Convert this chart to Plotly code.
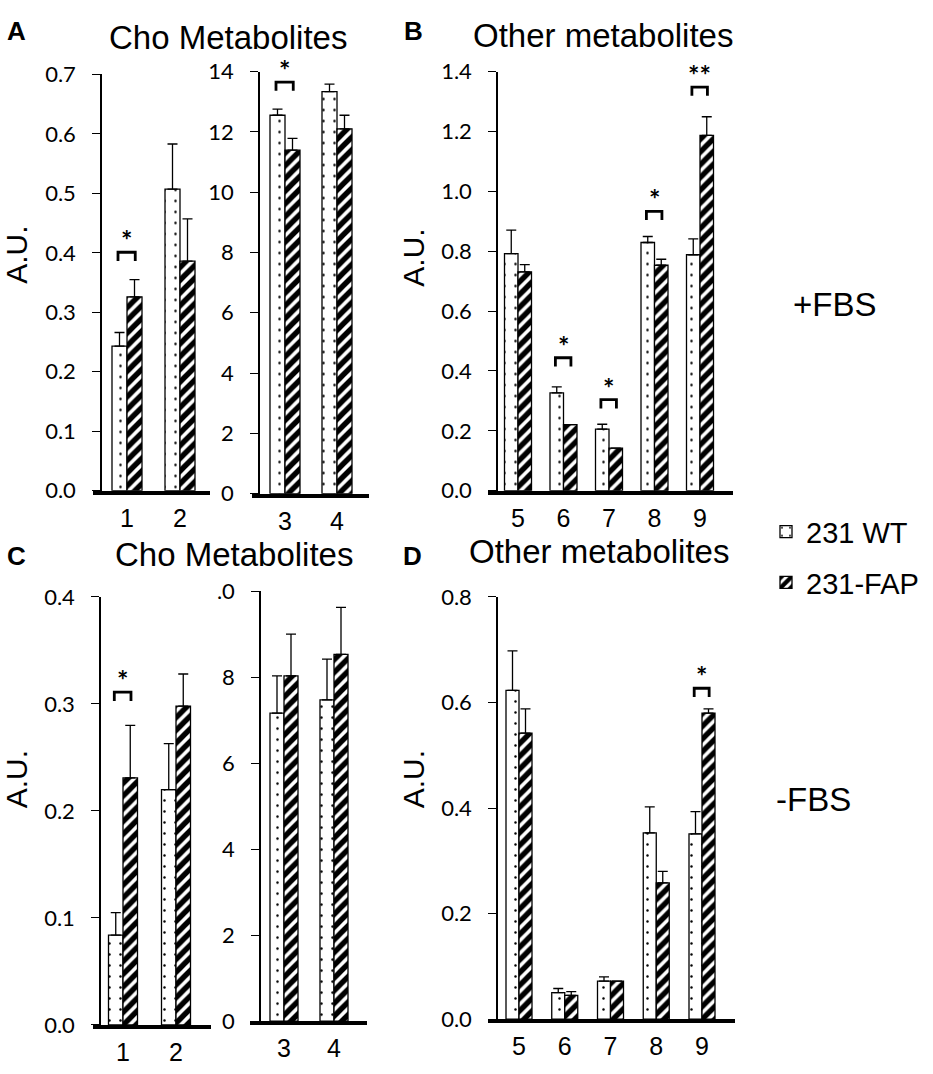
import plotly.graph_objects as go

# values (A.U.)
cats_cho_a = [1, 2]
cats_cho_b = [3, 4]
cats_other = [5, 6, 7, 8, 9]

# +FBS, Cho metabolites
a1_wt = [0.243, 0.507]
a1_wt_err = [0.023, 0.076]
a1_fap = [0.326, 0.386]
a1_fap_err = [0.029, 0.071]

a2_wt = [12.55, 13.33]
a2_wt_err = [0.20, 0.25]
a2_fap = [11.39, 12.10]
a2_fap_err = [0.39, 0.45]

# +FBS, other metabolites
b_wt = [0.792, 0.327, 0.206, 0.829, 0.788]
b_wt_err = [0.078, 0.020, 0.016, 0.020, 0.053]
b_fap = [0.731, 0.221, 0.142, 0.753, 1.187]
b_fap_err = [0.024, 0.0, 0.0, 0.020, 0.062]

# -FBS, Cho metabolites
c1_wt = [0.084, 0.220]
c1_wt_err = [0.021, 0.043]
c1_fap = [0.231, 0.298]
c1_fap_err = [0.049, 0.030]

c2_wt = [7.16, 7.47]
c2_wt_err = [0.87, 0.95]
c2_fap = [8.03, 8.53]
c2_fap_err = [0.97, 1.09]

# -FBS, other metabolites
d_wt = [0.623, 0.050, 0.072, 0.353, 0.351]
d_wt_err = [0.075, 0.008, 0.008, 0.049, 0.042]
d_fap = [0.542, 0.045, 0.072, 0.258, 0.580]
d_fap_err = [0.046, 0.007, 0.0, 0.022, 0.008]

# y ticks
a1_ticks = [0.0, 0.1, 0.2, 0.3, 0.4, 0.5, 0.6, 0.7]
a2_ticks = [0, 2, 4, 6, 8, 10, 12, 14]
b_ticks = [0.0, 0.2, 0.4, 0.6, 0.8, 1.0, 1.2, 1.4]
c1_ticks = [0.0, 0.1, 0.2, 0.3, 0.4]
c2_ticks = [0, 2, 4, 6, 8, 10]
c2_ticktext = ["0", "2", "4", "6", "8", ".0"]
d_ticks = [0.0, 0.2, 0.4, 0.6, 0.8]

# significance brackets: category, bracket top, label
a1_sig = [(1, 0.401, "*")]
a2_sig = [(3, 13.65, "*")]
b_sig = [(6, 0.444, "*"), (7, 0.304, "*"), (8, 0.933, "*"), (9, 1.348, "**")]
c1_sig = [(1, 0.311, "*")]
c2_sig = []
d_sig = [(9, 0.627, "*")]

W, H = 933, 1074


def px(x):
    return x / W


def py(y):
    return 1 - y / H


# geometry in page pixels: x-axis left/right, y-axis x, top tick y, baseline y,
# first / last category centre, bar width
panels = [
    dict(cats=cats_cho_a, wt=a1_wt, wte=a1_wt_err, fap=a1_fap, fape=a1_fap_err,
         ticks=a1_ticks, ticktext=["%.1f" % t for t in a1_ticks], sig=a1_sig,
         left=93, right=210, yx=101, top=62, base=489, c0=127, cl=180, bw=15),
    dict(cats=cats_cho_b, wt=a2_wt, wte=a2_wt_err, fap=a2_fap, fape=a2_fap_err,
         ticks=a2_ticks, ticktext=[str(t) for t in a2_ticks], sig=a2_sig,
         left=252, right=369, yx=259, top=59, base=492, c0=285, cl=337, bw=15),
    dict(cats=cats_other, wt=b_wt, wte=b_wt_err, fap=b_fap, fape=b_fap_err,
         ticks=b_ticks, ticktext=["%.1f" % t for t in b_ticks], sig=b_sig,
         left=488, right=733, yx=497, top=59, base=489, c0=518, cl=700, bw=13.5),
    dict(cats=cats_cho_a, wt=c1_wt, wte=c1_wt_err, fap=c1_fap, fape=c1_fap_err,
         ticks=c1_ticks, ticktext=["%.1f" % t for t in c1_ticks], sig=c1_sig,
         left=93, right=211, yx=100, top=598, base=1037, c0=123, cl=176, bw=14.5),
    dict(cats=cats_cho_b, wt=c2_wt, wte=c2_wt_err, fap=c2_fap, fape=c2_fap_err,
         ticks=c2_ticks, ticktext=c2_ticktext, sig=c2_sig,
         left=250, right=367, yx=260, top=592, base=1033, c0=284, cl=334, bw=14),
    dict(cats=cats_other, wt=d_wt, wte=d_wt_err, fap=d_fap, fape=d_fap_err,
         ticks=d_ticks, ticktext=["%.1f" % t for t in d_ticks], sig=d_sig,
         left=488, right=735, yx=497, top=598, base=1031, c0=519, cl=702, bw=13),
]

fig = go.Figure()
layout = {}
shapes = []
annotations = []

for i, p in enumerate(panels, start=1):
    xa = "x" if i == 1 else "x%d" % i
    ya = "y" if i == 1 else "y%d" % i
    cats = p["cats"]
    n = len(cats)
    step = (p["cl"] - p["c0"]) / (n - 1)
    r0 = cats[0] - (p["c0"] - p["left"]) / step
    r1 = cats[-1] + (p["right"] - p["cl"]) / step
    bw = p["bw"] / step
    ymax = p["ticks"][-1]

    fig.add_trace(go.Bar(
        x=cats, y=p["wt"], width=bw, offset=-bw, name="231 WT",
        xaxis=xa, yaxis=ya, legendgroup="wt", showlegend=(i == 1),
        marker=dict(color="white", opacity=1, line=dict(color="black", width=1.3),
                    pattern=dict(shape=".", fgcolor="black", bgcolor="white",
                                 fgopacity=1, size=11, solidity=0.04)),
        error_y=dict(type="data", symmetric=False, array=p["wte"],
                     arrayminus=[0] * n, color="black", thickness=1.3, width=5),
    ))
    fig.add_trace(go.Bar(
        x=cats, y=p["fap"], width=bw, offset=0, name="231-FAP",
        xaxis=xa, yaxis=ya, legendgroup="fap", showlegend=(i == 1),
        marker=dict(color="white", opacity=1, line=dict(color="black", width=1.3),
                    pattern=dict(shape="/", fgcolor="black", bgcolor="white",
                                 fgopacity=1, size=9, solidity=0.6)),
        error_y=dict(type="data", symmetric=False, array=p["fape"],
                     arrayminus=[0] * n, color="black", thickness=1.3, width=5),
    ))

    key = "" if i == 1 else str(i)
    layout["xaxis" + key] = dict(
        domain=[px(p["left"]), px(p["right"])], anchor=ya, range=[r0, r1],
        tickvals=cats, ticktext=[str(c) for c in cats], ticks="",
        showline=True, linewidth=4, linecolor="black",
        showgrid=False, zeroline=False, ticklabelstandoff=2,
        tickfont=dict(family="Liberation Sans, Arial", size=25, color="black"),
    )
    layout["yaxis" + key] = dict(
        domain=[py(p["base"]), py(p["top"])], anchor="free",
        position=px(p["yx"]), range=[0, ymax],
        tickvals=p["ticks"], ticktext=p["ticktext"], ticks="outside",
        ticklen=8, tickwidth=1.3, tickcolor="black",
        showline=True, linewidth=1.5, linecolor="black",
        showgrid=False, zeroline=False, ticklabelstandoff=12,
        tickfont=dict(family="Lato", size=22, color="black"),
    )

    leg = 9 * ymax / (p["base"] - p["top"])
    for c, yt, lbl in p["sig"]:
        xl = c - 0.6 * bw
        xr = c + 0.55 * bw
        shapes.append(dict(
            type="path", xref=xa, yref=ya,
            path="M%f,%f L%f,%f L%f,%f L%f,%f" % (xl, yt - leg, xl, yt, xr, yt, xr, yt - leg),
            line=dict(color="black", width=2.8),
        ))
        annotations.append(dict(
            x=(xl + xr) / 2, y=yt, xref=xa, yref=ya, text="<b>%s</b>" % lbl,
            showarrow=False, yanchor="bottom", yshift=-6,
            font=dict(family="Lato", size=27, color="black"),
        ))

title_font = dict(family="Liberation Sans, Arial", size=33, color="black")
letter_font = dict(family="Liberation Sans, Arial", size=26, color="black")
au_font = dict(family="Liberation Sans, Arial", size=30, color="black")

texts = [
    ("Cho Metabolites", 228, 24, title_font, 0),
    ("Other metabolites", 603, 22, title_font, 0),
    ("Cho Metabolites", 234, 554, title_font, 0),
    ("Other metabolites", 599, 551, title_font, 0),
    ("<b>A</b>", 16, 17, letter_font, 0),
    ("<b>B</b>", 413, 17, letter_font, 0),
    ("<b>C</b>", 16, 556, letter_font, 0),
    ("<b>D</b>", 412, 556, letter_font, 0),
    ("A.U.", 17, 247, au_font, -90),
    ("A.U.", 414, 250, au_font, -90),
    ("A.U.", 16, 785, au_font, -90),
    ("A.U.", 413, 785, au_font, -90),
    ("+FBS", 834, 298, title_font, 0),
    ("-FBS", 813, 806, title_font, 0),
]
for t, x, y, f, ang in texts:
    annotations.append(dict(
        text=t, x=px(x), y=py(y), xref="paper", yref="paper",
        xanchor="center", yanchor="middle", showarrow=False, font=f, textangle=ang,
    ))

fig.update_layout(
    width=W, height=H, autosize=False,
    margin=dict(l=0, r=0, t=0, b=0, pad=0),
    paper_bgcolor="white", plot_bgcolor="white",
    barmode="overlay",
    showlegend=True,
    legend=dict(x=px(766), y=py(505), xanchor="left", yanchor="top",
                font=dict(family="Liberation Sans, Arial", size=29, color="black"),
                tracegroupgap=10, bgcolor="rgba(0,0,0,0)", itemwidth=30),
    shapes=shapes,
    annotations=annotations,
    **layout,
)

fig.write_html("out.html", config={"displayModeBar": False},
               post_script="document.body.style.margin='0';")
